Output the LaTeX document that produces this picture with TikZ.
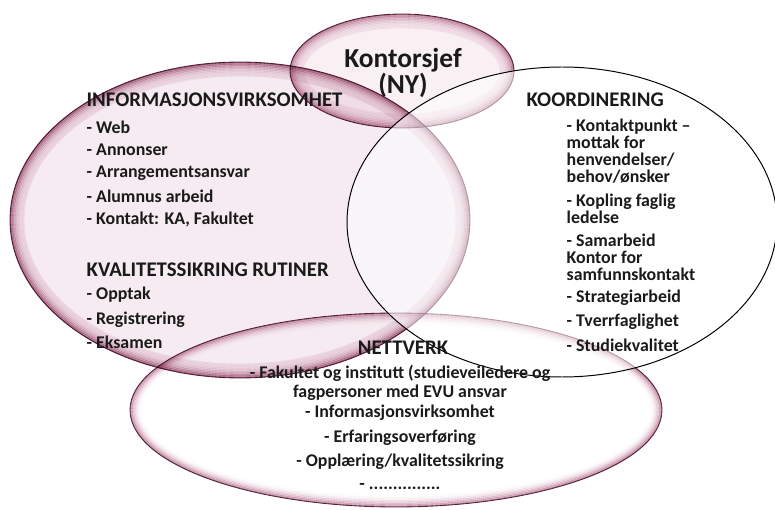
\documentclass[tikz,border=0pt]{standalone}
\usepackage{fontspec}
\setmainfont{Carlito}
\usetikzlibrary{positioning}

\definecolor{inkgrey}{HTML}{1A1A1A}
\definecolor{rimline}{HTML}{5A3044}
\definecolor{infocore}{HTML}{F6EBF0}
\definecolor{inforim}{HTML}{B47090}
\definecolor{chefcore}{HTML}{F9F0F4}
\definecolor{chefrim}{HTML}{C78DA7}
\definecolor{netrim}{HTML}{CF98B0}

% filled ellipse with a darker rim fading inwards
% #1 centre, #2 x radius, #3 y radius, #4 core colour, #5 rim colour
\newcommand{\rimellipse}[5]{%
	\begin{scope}
		\clip #1 ellipse [x radius=#2, y radius=#3];
		\fill[#4] #1 ellipse [x radius=#2, y radius=#3];
		\foreach \k [evaluate=\k as \mix using {int(100*(1-\k/9)^2.5)},
			evaluate=\k as \rxa using {#2-1.5*\k},
			evaluate=\k as \rya using {#3-1.5*\k}] in {0,...,9}
			\draw[color=#5!\mix!#4, line width=1.3pt] #1 ellipse [x radius=\rxa, y radius=\rya];
	\end{scope}
	\draw[rimline, line width=0.6pt] #1 ellipse [x radius=#2, y radius=#3];}

\begin{document}
\begin{tikzpicture}[x=0.025cm, y=-0.025cm,
	every node/.style={text=inkgrey, inner sep=1pt},
	heading/.style={font=\fontsize{14.8}{16}\selectfont\bfseries, anchor=west},
	item/.style={font=\fontsize{12.7}{12.1}\selectfont\bfseries, anchor=west, align=left},
	netitem/.style={font=\fontsize{12.7}{13.5}\selectfont\bfseries, align=center}]
	\useasboundingbox (0,0) rectangle (775,510);

	% pink ellipses
	\begin{scope}[blend mode=multiply]
		\rimellipse{(240,220)}{230}{158}{infocore}{inforim}
		\rimellipse{(396,410)}{266}{97}{white}{netrim}
		\rimellipse{(402,71)}{112}{57}{chefcore}{chefrim}
	\end{scope}

	% coordination ellipse
	\fill[white, fill opacity=0.55] (562,222) ellipse [x radius=215, y radius=155];
	\draw[black, line width=0.7pt] (562,222) ellipse [x radius=215, y radius=155];

	% office head
	\node[font=\fontsize{19.5}{16.4}\selectfont\bfseries, align=center] (chef) at (403,73) {Kontorsjef\\(NY)};

	% information work
	\node[heading] (info) at (85,100) {INFORMASJONSVIRKSOMHET};
	\foreach \txt [count=\i] in {Web, Annonser, Arrangementsansvar, Alumnus arbeid, {Kontakt: KA, Fakultet}}
		\node[item] (info\i) at (85,104+23*\i) {- \txt};

	% quality routines
	\node[heading] (kval) at (85,270) {KVALITETSSIKRING RUTINER};
	\node[item] (kval1) at (85,295) {- Opptak};
	\node[item] (kval2) at (85,320) {- Registrering};
	\node[item] (kval3) at (85,342) {- Eksamen};

	% coordination
	\node[heading] (koord) at (525,100) {KOORDINERING};
	\node[item] (koord1) at (565,151.5) {- Kontaktpunkt --\\mottak for\\henvendelser/\\behov/ønsker};
	\node[item] (koord2) at (565,208.5) {- Kopling faglig\\ledelse};
	\node[item] (koord3) at (565,257) {- Samarbeid\\Kontor for\\samfunnskontakt};
	\node[item] (koord4) at (565,298) {- Strategiarbeid};
	\node[item] (koord5) at (565,322) {- Tverrfaglighet};
	\node[item] (koord6) at (565,345) {- Studiekvalitet};

	% network
	\node[font=\fontsize{14.8}{16}\selectfont\bfseries] (nett) at (403,348) {NETTVERK};
	\node[netitem] (nett1) at (400,382.5) {- Fakultet og institutt (studieveiledere og\\fagpersoner med EVU ansvar};
	\node[netitem] (nett2) at (400,413) {- Informasjonsvirksomhet};
	\node[netitem] (nett3) at (400,438) {- Erfaringsoverføring};
	\node[netitem] (nett4) at (400,462) {- Opplæring/kvalitetssikring};
	\node[netitem] (nett5) at (400,487) {- ...............};
\end{tikzpicture}
\end{document}
